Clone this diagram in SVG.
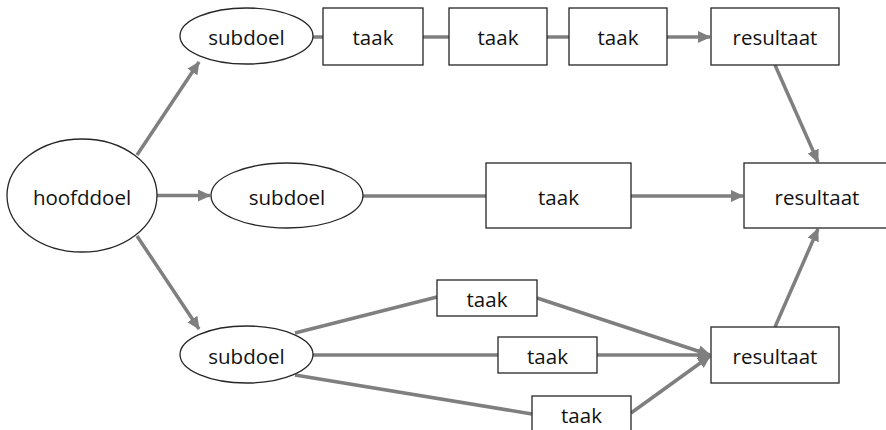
<svg xmlns="http://www.w3.org/2000/svg" width="886" height="430" viewBox="0 0 886 430">
<style>
.n{fill:#fff;stroke:#262626;stroke-width:1.3}
.t{font-family:"Open Sans","Liberation Sans",sans-serif;font-size:20.5px;fill:#111;text-anchor:middle;dominant-baseline:central}
.c{stroke:#7f7f7f;stroke-width:3.5;fill:none}
.a{marker-end:url(#ah)}
</style>
<defs>
<marker id="ah" markerUnits="userSpaceOnUse" markerWidth="14" markerHeight="12" refX="12" refY="6" orient="auto" viewBox="0 0 14 12">
<path d="M0,0 L13,6 L0,12 Z" fill="#7f7f7f"/>
</marker>
</defs>
<g id="connectors">
<line class="c a" x1="137" y1="155" x2="199" y2="62"/>
<line class="c a" x1="157" y1="195.5" x2="210" y2="195.5"/>
<line class="c a" x1="137" y1="236" x2="199" y2="329"/>
<line class="c" x1="313" y1="37" x2="323" y2="37"/>
<line class="c" x1="423" y1="37" x2="449" y2="37"/>
<line class="c" x1="547" y1="37" x2="569" y2="37"/>
<line class="c a" x1="667" y1="37" x2="710" y2="37"/>
<line class="c a" x1="775" y1="65" x2="818" y2="162"/>
<line class="c" x1="363" y1="196" x2="486" y2="196"/>
<line class="c a" x1="631" y1="196" x2="743" y2="196"/>
<line class="c a" x1="775" y1="327" x2="818" y2="229"/>
<line class="c" x1="295" y1="333" x2="437" y2="297"/>
<line class="c" x1="313" y1="355" x2="498" y2="355"/>
<line class="c" x1="295" y1="375" x2="532" y2="414"/>
<line class="c a" x1="537" y1="298" x2="710" y2="355"/>
<line class="c a" x1="597" y1="355" x2="710" y2="355"/>
<line class="c a" x1="631" y1="413" x2="710" y2="356"/>
</g>
<g id="hoofddoel"><ellipse class="n" cx="82" cy="195.5" rx="75" ry="56.5"/><text class="t" x="82" y="196.5">hoofddoel</text></g>
<g id="subdoel1"><ellipse class="n" cx="246.5" cy="36" rx="66.5" ry="28"/><text class="t" x="246.5" y="37">subdoel</text></g>
<g id="subdoel2"><ellipse class="n" cx="287" cy="195.5" rx="76" ry="32.5"/><text class="t" x="287" y="196.5">subdoel</text></g>
<g id="subdoel3"><ellipse class="n" cx="246.5" cy="354.5" rx="66.5" ry="28.5"/><text class="t" x="246.5" y="355.5">subdoel</text></g>
<g id="taak1"><rect class="n" x="323" y="8" width="100" height="57"/><text class="t" x="373" y="37">taak</text></g>
<g id="taak2"><rect class="n" x="449" y="8" width="98" height="57"/><text class="t" x="498" y="37">taak</text></g>
<g id="taak3"><rect class="n" x="569" y="8" width="98" height="57"/><text class="t" x="618" y="37">taak</text></g>
<g id="resultaat1"><rect class="n" x="711" y="8" width="128" height="57"/><text class="t" x="775" y="37">resultaat</text></g>
<g id="taak4"><rect class="n" x="486" y="163" width="145" height="65"/><text class="t" x="558.5" y="196.5">taak</text></g>
<g id="resultaat2"><rect class="n" x="744" y="163" width="146" height="65"/><text class="t" x="817" y="196.5">resultaat</text></g>
<g id="taak5"><rect class="n" x="437" y="280" width="100" height="36"/><text class="t" x="487" y="299">taak</text></g>
<g id="taak6"><rect class="n" x="498" y="337" width="99" height="36"/><text class="t" x="547.5" y="356">taak</text></g>
<g id="taak7"><rect class="n" x="532" y="396" width="99" height="36"/><text class="t" x="581.5" y="415">taak</text></g>
<g id="resultaat3"><rect class="n" x="711" y="327" width="128" height="56"/><text class="t" x="775" y="356">resultaat</text></g>
</svg>
